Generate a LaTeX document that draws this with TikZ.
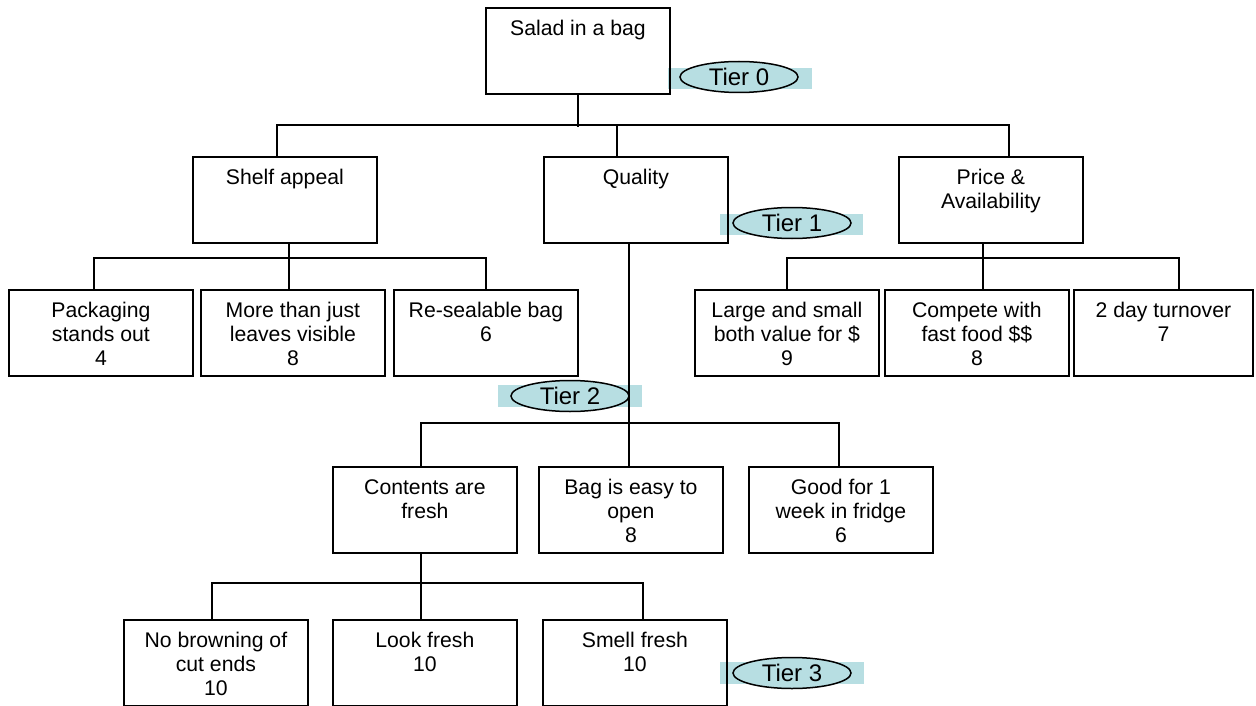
\documentclass[tikz,border=0pt]{standalone}
\usepackage{fontspec}
\setmainfont{Liberation Sans}
\usetikzlibrary{shapes.geometric}
\definecolor{tierfill}{RGB}{183,222,226}
% box contents: top-aligned, centred lines in a fixed-size cell
\newcommand\cellbody[2][184pt]{\parbox[t][86pt][t]{#1}{\centering\rule{0pt}{27.6pt}#2}}

\begin{document}
\begin{tikzpicture}[x=1pt,y=-1pt,
  tbox/.style={draw=black, line width=1.8pt, rectangle, inner sep=0pt,
    anchor=north west, font=\fontsize{21.2}{24}\selectfont},
  wire/.style={draw=black, line width=1.6pt},
  tierband/.style={fill=tierfill, draw=none},
  tiertag/.style={ellipse, draw=black, line width=1.5pt, fill=tierfill,
    inner sep=0pt, minimum width=118pt, minimum height=31pt,
    font=\fontsize{24}{28}\selectfont}
]
\useasboundingbox (0,0) rectangle (1256,706);

% tier markers
\fill[tierband] (668,68) rectangle (812,89);
\node[tiertag] (tier0) at (739,77) {Tier 0};
\fill[tierband] (720,214) rectangle (863,235);
\node[tiertag] (tier1) at (792,223) {Tier 1};
\fill[tierband] (498,385) rectangle (642,407);
\node[tiertag] (tier2) at (570,396) {Tier 2};
\fill[tierband] (720,662) rectangle (864,684);
\node[tiertag] (tier3) at (792,673) {Tier 3};

% tier 0
\node[tbox] (root) at (485,7) {\cellbody{Salad in a bag}};
% tier 1
\node[tbox] (shelf)   at (192,156) {\cellbody{Shelf appeal}};
\node[tbox] (quality) at (543,156) {\cellbody{Quality}};
\node[tbox] (price)   at (898,156) {\cellbody{Price \&\\Availability}};
% tier 2
\node[tbox] (pack)     at (8,289)    {\cellbody{Packaging\\stands out\\4}};
\node[tbox] (more)     at (200,289)  {\cellbody{More than just\\leaves visible\\8}};
\node[tbox] (reseal)   at (393,289)  {\cellbody{Re-sealable bag\\6}};
\node[tbox] (large)    at (694,289)  {\cellbody{Large and small\\both value for \$\\9}};
\node[tbox] (compete)  at (884,289)  {\cellbody{Compete with\\fast food \$\$\\8}};
\node[tbox] (turnover) at (1073,289) {\cellbody[179pt]{2 day turnover\\7}};
\node[tbox] (contents) at (332,466)  {\cellbody{Contents are\\fresh}};
\node[tbox] (bag)      at (538,466)  {\cellbody{Bag is easy to\\open\\8}};
\node[tbox] (good)     at (748,466)  {\cellbody{Good for 1\\week in fridge\\6}};
% tier 3
\node[tbox] (nobrown) at (123,619) {\cellbody{No browning of\\cut ends\\10}};
\node[tbox] (look)    at (332,619) {\cellbody{Look fresh\\10}};
\node[tbox] (smell)   at (542,619) {\cellbody{Smell fresh\\10}};

% connectors
\draw[wire] (root.south) -- ++(0,32);
\draw[wire] ([xshift=-8pt]shelf.north) -- ++(0,-31) -| ([xshift=18pt]price.north);
\draw[wire] ([xshift=-19pt]quality.north) -- ++(0,-31);

\draw[wire] ([xshift=4pt]shelf.south) -- ([xshift=-4pt]more.north);
\draw[wire] ([xshift=-7pt]pack.north) -- ++(0,-31) -| (reseal.north);

\draw[wire] ([xshift=-8pt]price.south) -- ([xshift=6pt]compete.north);
\draw[wire] (large.north) -- ++(0,-31) -| ([xshift=15.5pt]turnover.north);

\draw[wire] ([xshift=-7pt]quality.south) -- ([xshift=-2pt]bag.north);
\draw[wire] ([xshift=-4pt]contents.north) -- ++(0,-43) -| ([xshift=-2pt]good.north);

\draw[wire] ([xshift=-4pt]contents.south) -- ([xshift=-4pt]look.north);
\draw[wire] ([xshift=-4pt]nobrown.north) -- ++(0,-36) -| ([xshift=8pt]smell.north);
\end{tikzpicture}
\end{document}
